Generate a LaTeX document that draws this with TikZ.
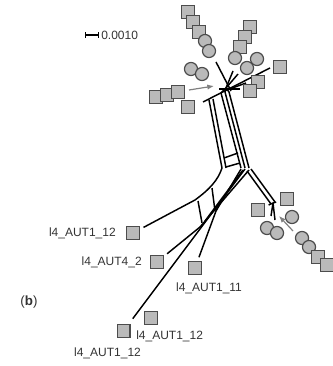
\documentclass[tikz,border=0pt]{standalone}
\usepackage{fontspec}
\setmainfont{Liberation Sans}
\usetikzlibrary{arrows.meta,positioning}

\begin{document}
\begin{tikzpicture}[x=0.75pt,y=-0.75pt,
  font=\fontsize{9}{10}\selectfont,
  sq/.style={draw=black!70,fill=black!27,line width=0.9pt,minimum size=9.6pt,inner sep=0pt},
  dot/.style={sq,circle,minimum size=9.8pt},
  edge/.style={line width=1.1pt,line join=round},
  ptr/.style={-{Latex[length=5pt,width=4pt]},draw=black!50,line width=0.9pt},
  lab/.style={inner sep=0pt,text=black!80}
]
\useasboundingbox (0,0) rectangle (332,366);
% scale bar
\coordinate (bl) at (85,35);
\coordinate (br) at (99,35);
\draw[{Bar[width=4pt]}-{Bar[width=4pt]},line width=0.9pt] (bl) -- (br);
\node[lab,anchor=west] (scale) at (101,35) {0.0010};
\node[lab,font=\fontsize{10}{12}\selectfont] (panel) at (29,302) {(\textbf{b})};

% network
\coordinate (hub) at (226,88);
\coordinate (bot) at (222,168);
\coordinate (rb) at (273,203);
\draw[edge] (216,62) -- (231,91);
\draw[edge] (270,68) -- (203,102);
\draw[edge] (hub) -- (233,71);
\draw[edge] (hub) -- (238,74);
\draw[edge] (219,89) -- (240,89);
\draw[edge] (227,90) -- (246,83);
\draw[edge] (209,100) -- (bot);
\draw[edge] (213,99) -- (226,168);
\draw[edge] (hub) -- (221,93) -- (241,168);
\draw[edge] (hub) -- (225,92) -- (245,168);
\draw[edge] (hub) -- (229,92) -- (249,168);
\draw[edge] (224,158) -- (238,153);
\draw[edge] (226,167) -- (240,163);
\draw[edge] (198,201) -- (202,223);
\draw[edge] (212,188) -- (215,211);
\draw[edge] (243,170) -- (205,221);
\draw[edge] (247,171) -- (271,204);
\draw[edge] (251,169) -- (275,202);
\draw[edge] (rb) -- (275,220);
\draw[edge] (rb) -- (271,216);
\draw[ptr] (189,90) -- (214,86);
\draw[ptr] (293,231) -- (279,216);

% upper markers
\node[sq] (t1) at (188,12) {};
\node[sq] (t2) at (193,22) {};
\node[sq] (t3) at (199,32) {};
\node[dot] (t4) at (205,41) {};
\node[dot] (t5) at (209,51) {};
\node[sq] (u1) at (250,27) {};
\node[sq] (u2) at (245,37) {};
\node[sq] (u3) at (240,47) {};
\node[dot] (u4) at (235,58) {};
\node[dot] (u5) at (257,59) {};
\node[dot] (u6) at (247,68) {};
\node[sq] (u7) at (280,67) {};
\node[sq] (u8) at (258,82) {};
\node[sq] (u9) at (250,91) {};
\node[dot] (v1) at (191,69) {};
\node[dot] (v2) at (202,74) {};
\node[sq] (v3) at (156,97) {};
\node[sq] (v4) at (167,95) {};
\node[sq] (v5) at (178,92) {};
\node[sq] (v6) at (188,107) {};

% lower right markers
\node[sq] (r1) at (287,199) {};
\node[sq] (r2) at (258,210) {};
\node[dot] (r3) at (292,217) {};
\node[dot] (r4) at (267,228) {};
\node[dot] (r5) at (277,233) {};
\node[dot] (r6) at (302,238) {};
\node[dot] (r7) at (309,247) {};
\node[sq] (r8) at (318,257) {};
\node[sq] (r9) at (327,265) {};
\draw[edge,shorten >=3pt] (rb) -- (r1);
\draw[edge,shorten >=3pt] (rb) -- (r2);

% leaves
\node[sq] (s1) at (133,233) {};
\node[sq] (s2) at (157,262) {};
\node[sq] (s3) at (195,268) {};
\node[sq] (s4) at (123.5,331) {};
\node[sq] (s5) at (151,318) {};
\node[lab,left=7.5pt of s1] {l4\_AUT1\_12};
\node[lab,left=6pt of s2] {l4\_AUT4\_2};
\node[lab,below=6pt of s3,xshift=10.5pt] {l4\_AUT1\_11};
\node[lab,below=4pt of s5,xshift=14pt] {l4\_AUT1\_12};
\node[lab,below=7pt of s4,xshift=-12pt] {l4\_AUT1\_12};
\draw[edge,shorten <=3pt] (s1) -- (195,200) .. controls (210,189) and (218,180) .. (bot);
\draw[edge,shorten <=3pt] (s2) -- (200,227) -- (249,170);
\draw[edge,shorten <=3pt] (s3) -- (216,211) -- (241,169);
\draw[edge,shorten <=5pt] (s4) -- (245,169);
\end{tikzpicture}
\end{document}
